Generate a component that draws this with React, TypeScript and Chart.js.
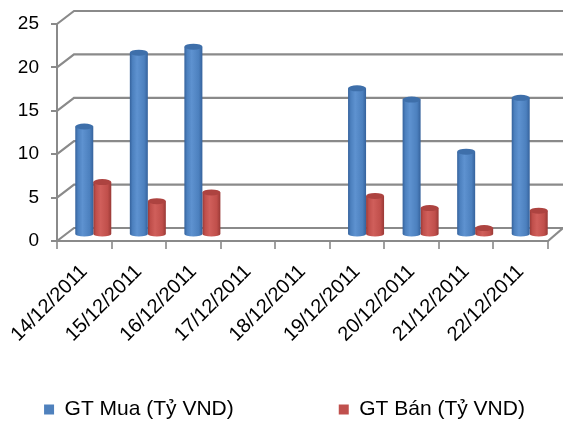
import React, { useEffect, useRef } from "react";
import { Chart, registerables } from "chart.js";

Chart.register(...registerables);

const categories = [
  "14/12/2011",
  "15/12/2011",
  "16/12/2011",
  "17/12/2011",
  "18/12/2011",
  "19/12/2011",
  "20/12/2011",
  "21/12/2011",
  "22/12/2011",
];
const buyValues = [12.5, 21.0, 21.7, null, null, 16.9, 15.6, 9.6, 15.8];
const sellValues = [6.1, 3.9, 4.9, null, null, 4.5, 3.1, 0.8, 2.8];
const seriesLabels = ["GT Mua (Tỷ VND)", "GT Bán (Tỷ VND)"];
const yTickValues = [0, 5, 10, 15, 20, 25];

const FONT = '"Liberation Sans", Arial, Helvetica, sans-serif';
const DEPTH_X = 17;
const DEPTH_Y = -13;
const BAR_DX = 9;
const BAR_DY = -6;
const CAT_PCT = 0.66;
const GRID = "#8a8a8a";
const LEGEND_SIZE = 21;
const LEGEND_STEP = 293;

const palettes = [
  { solid: "#4F81BD", dark: "#35629C", light: "#5E92D0", mid: "#4C80BE", top: "#3E6FAA" },
  { solid: "#C0504D", dark: "#993936", light: "#D05F5B", mid: "#C04F4B", top: "#AD4340" },
];

function makeFill(di: number) {
  const p = palettes[di];
  return (c: any) => {
    const chart = c.chart;
    const xs = chart.scales && chart.scales.x;
    if (!xs || c.type !== "data" || !isFinite(xs.width)) return p.solid;
    const catW = xs.width / categories.length;
    const bw = (catW * CAT_PCT) / 2;
    const center = xs.getPixelForValue(c.dataIndex) + (c.datasetIndex - 0.5) * bw;
    const g = chart.ctx.createLinearGradient(center - bw / 2, 0, center + bw / 2, 0);
    g.addColorStop(0, p.dark);
    g.addColorStop(0.15, p.mid);
    g.addColorStop(0.4, p.light);
    g.addColorStop(0.8, p.mid);
    g.addColorStop(1, p.dark);
    return g;
  };
}

const wallPlugin = {
  id: "wall3d",
  beforeDatasetsDraw(chart: any) {
    const { ctx, chartArea } = chart;
    const ys = chart.scales.y;
    const left = chartArea.left;
    const right = chartArea.right;
    ctx.save();
    ctx.strokeStyle = GRID;
    ctx.lineWidth = 2.2;
    yTickValues.forEach((v) => {
      const y = ys.getPixelForValue(v);
      ctx.beginPath();
      ctx.moveTo(left, y);
      ctx.lineTo(left + DEPTH_X, y + DEPTH_Y);
      ctx.lineTo(right + DEPTH_X - 2, y + DEPTH_Y);
      ctx.stroke();
    });
    const y0 = ys.getPixelForValue(0);
    ctx.beginPath();
    ctx.moveTo(right, y0);
    ctx.lineTo(right + DEPTH_X - 2, y0 + DEPTH_Y);
    ctx.stroke();
    ctx.restore();
    ctx.save();
    ctx.translate(BAR_DX, BAR_DY);
  },
  afterDatasetsDraw(chart: any) {
    const ctx = chart.ctx;
    chart.data.datasets.forEach((ds: any, di: number) => {
      const meta = chart.getDatasetMeta(di);
      meta.data.forEach((el: any, i: number) => {
        if (ds.data[i] == null) return;
        const { x, y, base, width } = el.getProps(["x", "y", "base", "width"], true);
        if (!isFinite(x) || !isFinite(y)) return;
        const rx = width / 2;
        ctx.fillStyle = el.options.backgroundColor;
        ctx.beginPath();
        ctx.ellipse(x, base, rx, 2.5, 0, 0, Math.PI);
        ctx.fill();
        ctx.fillStyle = palettes[di].top;
        ctx.beginPath();
        ctx.ellipse(x, y, rx, 3, 0, 0, Math.PI * 2);
        ctx.fill();
      });
    });
    ctx.restore();
  },
};

export default function App() {
  const ref = useRef<HTMLCanvasElement | null>(null);

  useEffect(() => {
    document.body.style.margin = "0";
    const canvas = ref.current;
    if (!canvas) return;
    const chart = new Chart(canvas, {
      type: "bar",
      data: {
        labels: categories,
        datasets: [
          {
            label: seriesLabels[0],
            data: buyValues,
            backgroundColor: makeFill(0),
            borderWidth: 0,
            categoryPercentage: CAT_PCT,
            barPercentage: 1,
            clip: false,
          } as any,
          {
            label: seriesLabels[1],
            data: sellValues,
            backgroundColor: makeFill(1),
            borderWidth: 0,
            categoryPercentage: CAT_PCT,
            barPercentage: 1,
            clip: false,
          } as any,
        ],
      },
      options: {
        responsive: false,
        animation: false,
        layout: { padding: { top: 24, right: 0, bottom: -9, left: 6 } },
        scales: {
          x: {
            grid: {
              display: true,
              drawOnChartArea: false,
              offset: true,
              tickLength: 8,
              color: "#a0a0a0",
              lineWidth: 2,
            },
            border: { display: true, color: GRID, width: 2 },
            ticks: {
              minRotation: 45,
              maxRotation: 45,
              color: "#000",
              padding: 11,
              font: { family: FONT, size: 20 },
            },
            afterFit: (s: any) => {
              s.height = 158;
            },
          },
          y: {
            min: 0,
            max: 25,
            ticks: {
              stepSize: 5,
              color: "#000",
              padding: 12,
              font: { family: FONT, size: 19 },
            },
            grid: {
              display: true,
              drawOnChartArea: false,
              tickLength: 6,
              color: GRID,
              lineWidth: 2,
            },
            border: { display: true, color: GRID, width: 2 },
            afterFit: (s: any) => {
              s.width = 51;
            },
          },
          depth: {
            type: "linear",
            position: "right",
            display: true,
            ticks: { display: false },
            grid: { display: false },
            border: { display: false },
            afterFit: (s: any) => {
              s.width = 15;
            },
          },
        },
        plugins: {
          tooltip: { enabled: false },
          legend: {
            position: "bottom",
            labels: {
              boxWidth: 10,
              boxHeight: 10,
              padding: 0,
              color: "#000",
              font: { family: FONT, size: LEGEND_SIZE },
              generateLabels: (ch: any) => {
                const ctx = ch.ctx;
                ctx.save();
                ctx.font = `${LEGEND_SIZE}px ${FONT}`;
                const w0 = ctx.measureText(seriesLabels[0]).width;
                const ws = ctx.measureText("\u00A0").width || 5.8;
                ctx.restore();
                const n = Math.max(1, Math.round((LEGEND_STEP - 10 - LEGEND_SIZE / 2 - w0) / ws));
                return ch.data.datasets.map((ds: any, i: number) => ({
                  text: i === 0 ? ds.label + "\u00A0".repeat(n) : ds.label,
                  fillStyle: palettes[i].solid,
                  strokeStyle: palettes[i].solid,
                  lineWidth: 0,
                  hidden: !ch.isDatasetVisible(i),
                  datasetIndex: i,
                  fontColor: "#000",
                }));
              },
            },
          },
        },
      },
      plugins: [wallPlugin],
    } as any);
    return () => chart.destroy();
  }, []);

  return (
    <div style={{ width: 563, height: 421, background: "#fff" }}>
      <canvas ref={ref} width={563} height={421} />
    </div>
  );
}
